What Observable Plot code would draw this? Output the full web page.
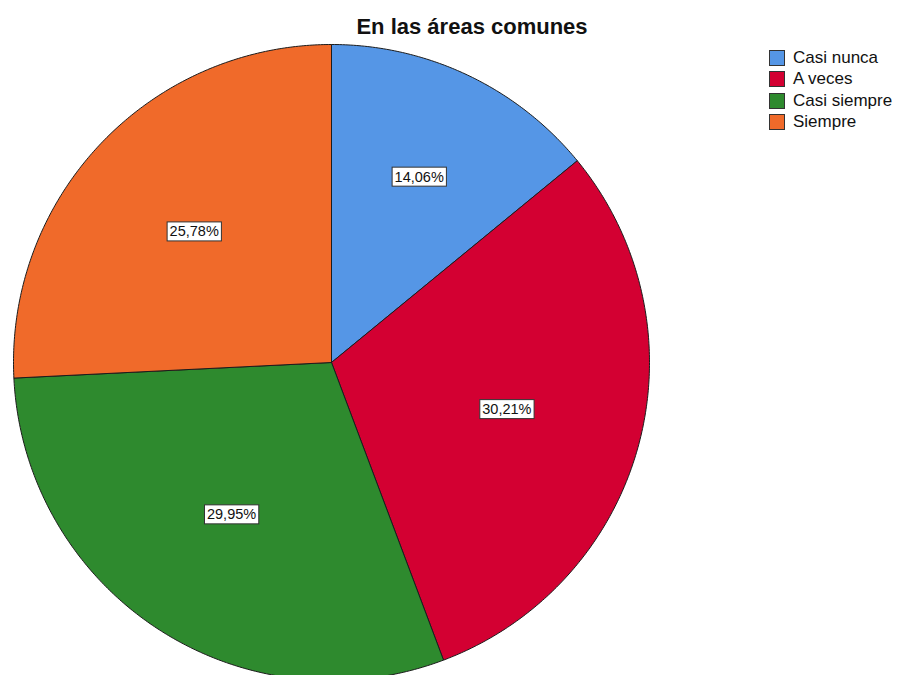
<!DOCTYPE html>
<html>
<head>
<meta charset="utf-8">
<script src="https://cdn.jsdelivr.net/npm/d3@7"></script>
<script src="https://cdn.jsdelivr.net/npm/@observablehq/plot@0.6"></script>
<style>
  html, body { margin: 0; padding: 0; background: #fff; }
  #wrap { position: relative; width: 900px; height: 675px; overflow: hidden; font-family: "Liberation Sans", Arial, sans-serif; }
  #title { position: absolute; left: 472px; top: 16px; transform: translateX(-50%); font-size: 22px; font-weight: bold; line-height: 22px; white-space: nowrap; color: #111; }
  #legend { position: absolute; left: 769px; top: 47px; }
  .row { display: flex; align-items: center; height: 21.5px; }
  .sw { width: 14px; height: 14px; border: 1px solid #333; box-sizing: content-box; }
  .lab { margin-left: 8px; font-size: 17px; color: #111; white-space: nowrap; line-height: 16px; }
  svg { position: absolute; left: 0; top: 0; }
</style>
</head>
<body>
<div id="wrap">
  <div id="chart"></div>
  <div id="title"></div>
  <div id="legend"></div>
</div>
<script>
const title = "En las áreas comunes";
const categories = ["Casi nunca", "A veces", "Casi siempre", "Siempre"];
const percents = [14.06, 30.21, 29.95, 25.78];
const pctLabels = ["14,06%", "30,21%", "29,95%", "25,78%"];
const colors = ["#5596E6", "#D30032", "#2E8A2E", "#F06A2A"];

// Build slice outlines (unit circle, data units) from the percentages
const arcs = d3.pie().sort(null).value(d => d)(percents);
const points = [];
const labelData = [];
arcs.forEach((a, i) => {
  const cat = categories[i];
  points.push({cat, x: 0, y: 0});
  const steps = Math.max(2, Math.ceil((a.endAngle - a.startAngle) / (Math.PI / 360)));
  for (let k = 0; k <= steps; k++) {
    const t = a.startAngle + (a.endAngle - a.startAngle) * k / steps;
    points.push({cat, x: Math.sin(t), y: Math.cos(t)});
  }
  points.push({cat, x: 0, y: 0});
  const half = (a.endAngle - a.startAngle) / 2;
  const mid = a.startAngle + half;
  const d = 2 * Math.sin(half) / (3 * half); // sector centroid distance
  labelData.push({cat, text: pctLabels[i], x: d * Math.sin(mid), y: d * Math.cos(mid)});
});

const chart = Plot.plot({
  width: 900,
  height: 675,
  margin: 0,
  x: {domain: [-1, 1], range: [13, 649], axis: null},
  y: {domain: [-1, 1], range: [680, 44], axis: null},
  color: {domain: categories, range: colors},
  style: {background: "transparent", overflow: "visible"},
  marks: [
    Plot.line(points, {x: "x", y: "y", z: "cat", fill: "cat", stroke: "#1c1c1c", strokeWidth: 1, strokeLinejoin: "miter", curve: "linear"}),
    Plot.text(labelData, {x: "x", y: "y", text: "text", fontSize: 14.5, fontFamily: "Liberation Sans, Arial, sans-serif", fill: "#111"})
  ]
});
document.getElementById("chart").appendChild(chart);

// white boxes behind the percentage labels
chart.querySelectorAll('g[aria-label="text"] text').forEach(t => {
  const b = t.getBBox();
  const r = document.createElementNS("http://www.w3.org/2000/svg", "rect");
  const cy = b.y + b.height / 2;
  r.setAttribute("x", b.x - 2.5);
  r.setAttribute("y", cy - 9.5);
  r.setAttribute("width", b.width + 5);
  r.setAttribute("height", 19);
  r.setAttribute("fill", "#fff");
  r.setAttribute("stroke", "#333");
  r.setAttribute("stroke-width", 1);
  if (t.getAttribute("transform")) r.setAttribute("transform", t.getAttribute("transform"));
  t.parentNode.insertBefore(r, t);
});

document.getElementById("title").textContent = title;
const legend = document.getElementById("legend");
categories.forEach((c, i) => {
  const row = document.createElement("div");
  row.className = "row";
  const sw = document.createElement("div");
  sw.className = "sw";
  sw.style.background = colors[i];
  const lab = document.createElement("div");
  lab.className = "lab";
  lab.textContent = c;
  row.appendChild(sw);
  row.appendChild(lab);
  legend.appendChild(row);
});
</script>
</body>
</html>
